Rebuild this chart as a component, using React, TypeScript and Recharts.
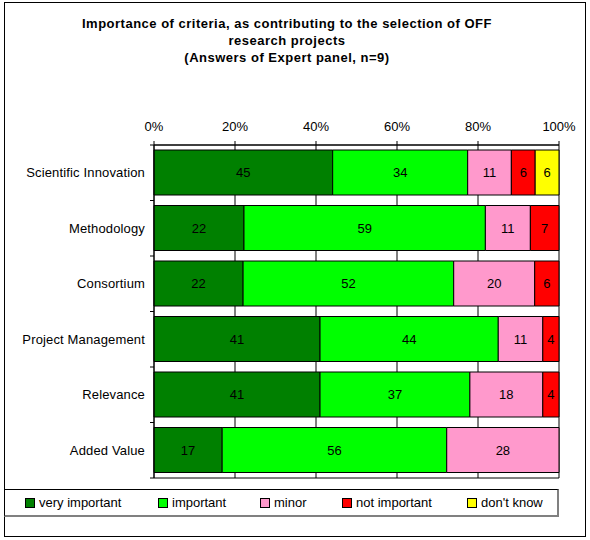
import { BarChart, Bar, XAxis, YAxis, CartesianGrid, LabelList } from 'recharts';

const categories = ['Scientific Innovation', 'Methodology', 'Consortium', 'Project Management', 'Relevance', 'Added Value'];
const veryImportant = [45, 22, 22, 41, 41, 17];
const important = [34, 59, 52, 44, 37, 56];
const minor = [11, 11, 20, 11, 18, 28];
const notImportant = [6, 7, 6, 4, 4, 0];
const dontKnow = [6, 0, 0, 0, 0, 0];
const percentTicks = [0, 0.2, 0.4, 0.6, 0.8, 1];

const seriesNames = ['very important', 'important', 'minor', 'not important', "don't know"];
const seriesKeys = ['vi', 'im', 'mi', 'ni', 'dk'];
const seriesColors = ['#008000', '#00FF00', '#FF99CC', '#FF0000', '#FFFF00'];

const titleLines = [
    'Importance of criteria, as contributing to the selection of OFF',
    'research projects',
    '(Answers of Expert panel, n=9)',
];

const data = categories.map((name, i) => ({
    name,
    vi: veryImportant[i],
    im: important[i],
    mi: minor[i],
    ni: notImportant[i],
    dk: dontKnow[i],
}));

// layout
const W = 590;
const H = 540;
const TOP_AXIS_H = 30;
const MARGIN = { top: 115, right: 31, bottom: 62, left: 0 };
const Y_AXIS_W = 154;
const BAND = (H - MARGIN.top - TOP_AXIS_H - MARGIN.bottom) / categories.length;
const LEGEND_X = [24, 157, 259, 341, 466];
const FONT = '"Liberation Sans", Arial, sans-serif';

function CategoryTick(props: any) {
    const { x, y, payload, index } = props;
    const axisX = x + 10;
    return (
        <g>
            <text x={x + 1} y={y} textAnchor="end" dominantBaseline="central" fontSize={13} fill="#000" fontFamily={FONT} letterSpacing={0.15}>
                {payload.value}
            </text>
            <line x1={axisX - 4} x2={axisX} y1={y - BAND / 2} y2={y - BAND / 2} stroke="#000" />
            {index === categories.length - 1 && (
                <line x1={axisX - 4} x2={axisX} y1={y + BAND / 2} y2={y + BAND / 2} stroke="#000" />
            )}
        </g>
    );
}

export default function App() {
    return (
        <div style={{ position: 'absolute', left: 0, top: 0, width: W, height: H, fontFamily: FONT, background: '#fff' }}>
            <div style={{ position: 'absolute', left: 4, top: 2, width: 582, height: 535, border: '1px solid #000', boxSizing: 'border-box' }} />
            <div style={{ position: 'absolute', left: 0, top: 15, width: 574, textAlign: 'center', fontWeight: 'bold', fontSize: 13, lineHeight: '17px', letterSpacing: '0.5px', color: '#000' }}>
                {titleLines.map(t => <div key={t}>{t}</div>)}
            </div>
            <div style={{ position: 'absolute', left: 0, top: 0 }}>
                <BarChart width={W} height={H} data={data} layout="vertical" margin={MARGIN} stackOffset="expand" barSize={45}>
                    <CartesianGrid
                        stroke="#000"
                        vertical={true}
                        horizontalCoordinatesGenerator={({ offset }: any) => [offset.top, offset.top + offset.height]}
                    />
                    <XAxis
                        type="number"
                        orientation="top"
                        domain={[0, 1]}
                        ticks={percentTicks}
                        height={TOP_AXIS_H}
                        tickFormatter={(v: number) => `${Math.round(v * 100)}%`}
                        tickSize={4}
                        tickMargin={10}
                        stroke="#000"
                        tick={{ fill: '#000', fontSize: 13, fontFamily: FONT }}
                    />
                    <YAxis
                        type="category"
                        dataKey="name"
                        width={Y_AXIS_W}
                        tickLine={false}
                        tickSize={4}
                        tickMargin={6}
                        stroke="#000"
                        tick={<CategoryTick />}
                        interval={0}
                    />
                    {seriesKeys.map((k, i) => (
                        <Bar key={k} dataKey={k} name={seriesNames[i]} stackId="a" fill={seriesColors[i]} stroke="#000" strokeWidth={1} isAnimationActive={false}>
                            <LabelList
                                dataKey={k}
                                position="center"
                                fill="#000"
                                fontSize={13}
                                fontFamily={FONT}
                                formatter={(v: any) => (v ? v : '')}
                            />
                        </Bar>
                    ))}
                </BarChart>
            </div>
            <div style={{ position: 'absolute', left: 4, top: 489, width: 555, height: 28, border: '1px solid #000', borderRight: '2px solid #808080', borderBottom: '2px solid #808080', boxSizing: 'border-box', background: '#fff' }}>
                {seriesNames.map((n, i) => (
                    <div key={n} style={{ position: 'absolute', left: LEGEND_X[i] - 4, top: 5, fontSize: 13, lineHeight: '16px', color: '#000', whiteSpace: 'nowrap', display: 'flex', alignItems: 'center' }}>
                        <span style={{ display: 'inline-block', width: 8, height: 8, background: seriesColors[i], border: '1px solid #000', marginRight: 4 }} />
                        {n}
                    </div>
                ))}
            </div>
        </div>
    );
}
